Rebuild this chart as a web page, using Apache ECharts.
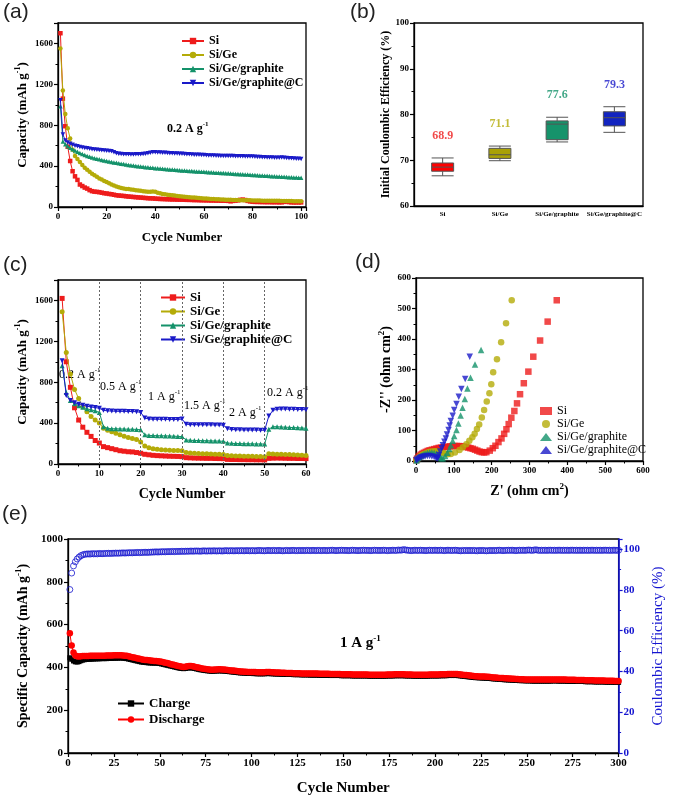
<!DOCTYPE html>
<html><head><meta charset="utf-8">
<script src="https://cdn.jsdelivr.net/npm/echarts@6/dist/echarts.min.js"></script>
<style>html,body{margin:0;padding:0;background:#fff}#c{width:674px;height:797px}</style>
</head><body><div id="c"></div>
<script>
// ---------------- DATA ----------------
const seriesNames = ['Si', 'Si/Ge', 'Si/Ge/graphite', 'Si/Ge/graphite@C'];

// (a) cycling at 0.2 A g-1, cycles 1..100
const aSi = [1700,1060,790,590,450,350,300,265,220,205,
 190,180,165,155,150,148,145,140,135,132,
 128,125,120,115,112,110,108,105,102,100,
 98,96,94,92,90,88,86,85,84,82,
 80,79,78,77,76,75,74,74,73,72,
 72,71,70,70,69,68,68,67,66,66,
 65,65,64,64,63,63,62,62,61,60,
 56,60,62,65,70,72,68,60,55,52,
 50,50,49,49,48,48,48,47,47,47,
 46,46,50,52,48,46,45,45,45,45];
const aSiGe = [1550,1140,910,770,670,560,500,470,440,410,
 385,365,345,325,310,295,280,268,255,245,
 232,220,210,200,192,185,180,177,175,172,
 168,165,162,158,155,152,150,150,152,148,
 140,135,128,125,120,118,115,112,108,105,
 102,100,98,96,94,92,90,88,86,84,
 82,80,79,78,76,75,74,73,72,71,
 70,69,68,68,67,66,66,65,65,64,
 64,63,63,62,62,62,61,61,60,60,
 60,59,59,58,58,58,57,57,56,56];
const aSiGeGr = [985,640,615,595,580,566,552,540,528,518,
 508,500,492,485,478,472,466,460,455,450,
 445,440,436,432,428,424,420,416,412,408,
 405,402,399,396,393,390,388,385,383,380,
 378,376,374,372,370,368,366,364,362,360,
 358,356,355,353,352,350,348,347,345,344,
 342,341,339,338,336,335,333,332,330,329,
 327,326,324,323,321,320,318,317,315,314,
 312,311,309,308,306,305,303,302,300,299,
 298,296,295,293,292,290,289,288,286,285];
const aSiGeGrC = [1045,710,650,632,618,608,600,594,588,582,
 578,574,570,566,563,560,557,554,552,550,
 548,545,535,525,520,518,516,515,515,514,
 514,515,515,516,518,520,525,530,535,535,
 533,532,530,530,528,527,525,524,523,522,
 520,518,516,515,514,512,511,510,509,508,
 506,505,504,503,502,501,500,500,499,499,
 498,498,497,497,496,496,495,495,494,493,
 492,490,489,487,486,485,484,484,483,482,
 483,484,482,480,478,476,474,472,471,470];

// (b) initial coulombic efficiency box data [min, Q1, median, Q3, max]
const bBoxes = [
  [66.6, 67.6, 68.5, 69.4, 70.5],
  [69.9, 70.4, 71.2, 72.6, 73.1],
  [74.0, 74.5, 77.9, 78.6, 79.4],
  [76.1, 77.5, 79.3, 80.6, 81.7]
];
const bLabels = ['68.9', '71.1', '77.6', '79.3'];

// (c) rate capability, cycles 1..60
const rateLabels = ['0.2', '0.5', '1', '1.5', '2', '0.2'];
const rateBoundaries = [10, 20, 30, 40, 50];
const cSi = [1620,1000,750,550,430,360,310,270,230,205,
 170,160,150,140,130,125,120,118,112,105,
 95,90,85,82,80,78,76,75,74,72,
 62,60,58,57,56,55,55,54,53,52,
 45,44,44,43,43,42,42,41,41,40,
 55,57,58,57,56,55,55,54,54,53];
const cSiGe = [1490,1090,880,730,640,560,510,465,430,400,
 350,330,315,300,285,272,260,250,240,215,
 175,160,150,145,140,138,135,133,132,130,
 112,108,105,103,101,100,98,96,95,93,
 82,80,79,78,77,76,75,74,73,70,
 100,98,96,95,93,92,90,88,86,82];
const cSiGeGr = [960,700,620,590,570,555,540,530,520,505,
 365,350,345,345,343,342,340,340,338,335,
 285,280,278,277,276,275,274,272,270,268,
 235,232,230,230,228,228,226,225,224,222,
 205,202,200,200,198,198,197,196,196,195,
 340,365,365,362,360,358,356,355,352,350];
const cSiGeGrC = [1010,670,620,600,585,575,565,558,552,545,
 525,520,518,516,515,515,514,513,512,505,
 450,440,438,438,437,437,436,436,435,440,
 390,385,385,384,384,383,383,382,382,380,
 345,338,335,334,333,333,332,332,331,330,
 470,525,535,538,538,536,535,534,533,530];

// (d) Nyquist plots [Z', -Z'']
const dSi = [[1,3],[3,8],[6,13],[9,17],[13,21],[17,24],[21,27],[26,30],[31,33],[36,35],[42,37],[48,39],[54,41],[60,43],[66,44],[72,45],[78,46],[84,47],[90,48],[96,49],[102,49],[108,49],[114,49],[120,48],[126,47],[132,46],[138,44],[144,42],[150,40],[156,37],[162,34],[168,31],[174,29],[180,28],[186,29],[195,34],[203,42],[210,50],[218,62],[226,74],[233,89],[239,104],[245,121],[252,142],[260,164],[267,189],[275,219],[285,255],[297,293],[310,342],[328,395],[348,457],[372,527]];
const dSiGe = [[1,3],[3,7],[6,11],[10,15],[14,19],[19,22],[24,25],[30,28],[36,30],[42,31],[48,32],[54,32],[60,31],[66,29],[72,26],[78,24],[84,22],[92,23],[103,28],[115,36],[124,45],[133,55],[141,66],[149,78],[155,89],[161,105],[167,120],[174,143],[180,167],[187,195],[194,222],[199,252],[204,291],[214,334],[225,389],[238,452],[253,527]];
const dSiGeGr = [[1,2],[3,6],[6,10],[10,14],[14,18],[19,22],[24,25],[30,27],[36,28],[42,28],[48,27],[54,24],[60,19],[64,13],[67,9],[71,9],[77,16],[83,27],[88,39],[92,52],[97,66],[101,82],[107,102],[112,123],[118,149],[123,175],[129,203],[136,238],[144,273],[156,316],[172,364]];
const dSiGeGrC = [[1,2],[3,4],[6,7],[10,10],[14,12],[19,14],[24,15],[30,16],[36,16],[42,15],[48,13],[53,10],[56,8],[58,11],[61,20],[64,31],[68,42],[71,52],[75,63],[79,74],[82,87],[86,102],[89,116],[92,131],[97,148],[101,167],[107,187],[113,211],[120,236],[130,269],[142,342]];

// (e) long cycling at 1 A g-1, cycles 1..300
const eCharge = [445,438,430,426,425,427,431,434,436,437,
 438,438,439,439,440,440,440,441,441,441,
 441,442,442,442,443,443,443,444,444,443,
 442,441,439,437,435,433,431,429,427,425,
 424,423,422,421,421,420,420,420,419,418,
 416,414,412,410,408,406,404,402,400,398,
 396,395,394,395,397,398,398,397,395,393,
 391,389,388,386,385,384,383,382,382,383,
 383,384,384,383,383,382,381,380,379,378,
 377,376,375,374,374,373,373,372,372,372,
 371,371,370,370,370,370,370,371,371,371,
 370,370,369,369,369,368,368,368,367,367,
 367,367,366,366,366,366,365,365,365,365,
 365,364,364,364,364,364,363,363,363,363,
 363,363,362,362,362,362,362,362,361,361,
 361,361,361,361,360,360,360,360,360,360,
 360,360,360,359,359,359,359,359,359,359,
 359,359,359,360,360,360,360,361,361,361,
 361,361,361,360,360,360,360,359,359,359,
 359,359,359,359,359,359,360,360,360,360,
 360,360,361,361,361,361,362,362,362,362,
 362,362,361,360,359,358,357,356,355,354,
 353,352,352,351,351,350,350,349,349,348,
 347,346,346,345,344,344,343,342,342,341,
 341,340,340,339,339,338,338,338,337,337,
 337,337,336,336,336,336,336,336,336,336,
 336,336,336,337,337,337,336,336,336,336,
 336,335,335,335,335,335,334,334,334,334,
 334,333,333,333,333,333,332,332,332,332,
 332,332,331,331,331,331,331,330,330,330];
const eDischarge = [560,502,470,456,452,451,452,453,453,453,
 453,454,454,454,454,455,455,455,455,455,
 456,456,456,456,457,457,457,457,457,456,
 455,454,452,450,448,446,444,442,440,438,
 436,435,434,433,432,431,430,430,429,428,
 426,424,422,420,418,415,413,411,409,407,
 405,403,402,403,405,406,406,405,403,401,
 399,397,395,394,392,391,390,389,389,390,
 390,391,391,390,390,389,388,387,386,385,
 384,383,382,381,381,380,380,379,379,378,
 378,378,377,377,377,377,377,378,378,378,
 377,377,376,376,376,375,375,375,374,374,
 374,374,373,373,373,373,372,372,372,372,
 372,371,371,371,371,371,370,370,370,370,
 370,370,369,369,369,369,369,369,368,368,
 368,368,368,368,367,367,367,367,367,367,
 367,367,367,366,366,366,366,366,366,366,
 366,366,366,367,367,367,367,368,368,368,
 368,368,368,367,367,367,367,366,366,366,
 366,366,366,366,366,366,367,367,367,367,
 367,367,368,368,368,368,369,369,369,369,
 369,369,368,367,366,365,364,363,362,361,
 360,359,359,358,358,357,357,356,356,355,
 354,353,353,352,351,351,350,349,349,348,
 348,347,347,346,346,345,345,345,344,344,
 344,344,343,343,343,343,343,343,343,343,
 343,343,343,344,344,344,343,343,343,343,
 343,342,342,342,342,342,341,341,341,341,
 341,340,340,340,340,340,339,339,339,339,
 339,339,338,338,338,338,338,337,337,337];
const eCE = [80.2,88.3,91.8,93.8,95.2,96.1,96.8,97.2,97.5,97.6,
 97.7,97.6,97.8,97.7,97.8,97.7,97.9,97.8,97.8,97.9,
 97.9,98.0,97.9,98.0,98.0,98.1,98.0,98.1,98.1,98.2,
 98.1,98.2,98.2,98.3,98.2,98.3,98.3,98.4,98.3,98.4,
 98.4,98.5,98.4,98.5,98.5,98.6,98.6,98.7,98.6,98.7,
 98.7,98.8,98.7,98.8,98.8,98.8,98.9,98.8,98.9,98.9,
 98.9,99.0,98.9,99.0,99.0,99.0,99.1,99.0,99.1,99.1,
 99.1,99.0,99.1,99.2,99.1,99.1,99.2,99.1,99.2,99.2,
 99.1,99.2,99.2,99.1,99.2,99.3,99.2,99.2,99.3,99.2,
 99.2,99.3,99.2,99.3,99.3,99.2,99.3,99.3,99.2,99.3,
 99.3,99.2,99.3,99.4,99.3,99.3,99.2,99.3,99.4,99.3,
 99.3,99.4,99.3,99.3,99.4,99.3,99.2,99.3,99.4,99.3,
 99.3,99.4,99.4,99.3,99.3,99.4,99.3,99.4,99.3,99.4,
 99.4,99.3,99.4,99.4,99.3,99.4,99.4,99.3,99.4,99.4,
 99.3,99.4,99.4,99.5,99.4,99.3,99.4,99.4,99.5,99.4,
 99.4,99.4,99.3,99.4,99.5,99.4,99.4,99.3,99.4,99.4,
 99.5,99.4,99.4,99.4,99.3,99.4,99.5,99.4,99.4,99.4,
 99.4,99.5,99.4,99.3,99.4,99.4,99.5,99.4,99.4,99.6,
 99.5,99.6,99.8,99.6,99.5,99.4,99.3,99.4,99.5,99.4,
 99.4,99.5,99.4,99.4,99.3,99.4,99.5,99.4,99.4,99.5,
 99.4,99.4,99.5,99.4,99.3,99.4,99.5,99.4,99.4,99.4,
 99.5,99.4,99.3,99.2,99.4,99.3,99.4,99.3,99.4,99.3,
 99.4,99.3,99.2,99.4,99.3,99.4,99.3,99.2,99.3,99.4,
 99.3,99.4,99.3,99.4,99.5,99.4,99.3,99.4,99.4,99.5,
 99.4,99.5,99.4,99.3,99.4,99.5,99.4,99.5,99.4,99.5,
 99.6,99.5,99.4,99.6,99.7,99.5,99.4,99.5,99.4,99.5,
 99.4,99.5,99.5,99.4,99.5,99.4,99.5,99.5,99.4,99.5,
 99.4,99.5,99.4,99.5,99.5,99.4,99.5,99.4,99.5,99.4,
 99.5,99.4,99.5,99.4,99.5,99.5,99.4,99.5,99.4,99.5,
 99.4,99.5,99.5,99.4,99.5,99.4,99.5,99.5,99.4,99.5];

// ---------------- STYLE ----------------
const SERIF = '"Liberation Serif","Times New Roman",serif';
const SANS = '"Liberation Sans",Arial,sans-serif';
const colors = ['#ee1c1c', '#b4ab08', '#14926a', '#1a1ac8'];
const boxColors = ['#ff0000', '#a9a106', '#16936b', '#1224c0'];
const symbols = ['rect', 'circle', 'triangle', 'triangle'];
const rotates = [0, 0, 0, 180];

function rich(size, weight, color) {
  return {
    t: { fontSize: size, fontWeight: weight, fontFamily: SERIF, color: color, lineHeight: size + 4 },
    s: { fontSize: Math.round(size * 0.62), fontWeight: weight, fontFamily: SERIF, color: color, verticalAlign: 'top', lineHeight: Math.round(size * 0.62) + 2 }
  };
}
function sup(a, s, b) { return '{t|' + a + '}{s|' + s + '}' + (b ? '{t|' + b + '}' : ''); }

function axisCommon(fs, color) {
  color = color || '#000';
  return {
    axisLine: { show: true, onZero: false, lineStyle: { color: color, width: 1.3 } },
    axisTick: { show: true, inside: false, length: 4, lineStyle: { color: color, width: 1.2 } },
    minorTick: { show: true, splitNumber: 2, length: 2.5, lineStyle: { color: color, width: 1 } },
    splitLine: { show: false },
    axisLabel: { fontFamily: SERIF, fontWeight: 'bold', fontSize: fs, color: color, margin: 5,
      formatter: v => String(v) }
  };
}
function gridBox(l, t, w, h) {
  return { left: l, top: t, width: w, height: h, show: true, borderColor: '#000', borderWidth: 1.3, containLabel: false };
}
const toXY = arr => arr.map((v, i) => [i + 1, v]);

// ---------------- OPTION ----------------
const grids = [
  gridBox(58, 23, 248, 184),   // a
  gridBox(414, 23, 229, 183),  // b
  gridBox(58, 280, 248, 184),  // c
  gridBox(416, 278, 227, 183), // d
  gridBox(68, 539, 558, 215)   // e
];

const xAxes = [
  Object.assign(axisCommon(9), { gridIndex: 0, type: 'value', min: 0, max: 102, interval: 20,
    name: 'Cycle Number', nameLocation: 'middle', nameGap: 24,
    nameTextStyle: { fontFamily: SERIF, fontWeight: 'bold', fontSize: 13 } }),
  Object.assign(axisCommon(7), { gridIndex: 1, type: 'category', data: seriesNames, boundaryGap: true,
    axisTick: { show: false }, minorTick: { show: false } }),
  Object.assign(axisCommon(9), { gridIndex: 2, type: 'value', min: 0, max: 60, interval: 10,
    name: 'Cycle Number', nameLocation: 'middle', nameGap: 23,
    nameTextStyle: { fontFamily: SERIF, fontWeight: 'bold', fontSize: 14 } }),
  Object.assign(axisCommon(9), { gridIndex: 3, type: 'value', min: 0, max: 600, interval: 100,
    name: sup("Z' (ohm cm", '2', ')'), nameLocation: 'middle', nameGap: 21,
    nameTextStyle: { rich: rich(14, 'bold', '#000') } }),
  Object.assign(axisCommon(11), { gridIndex: 4, type: 'value', min: 0, max: 300, interval: 25,
    name: 'Cycle Number', nameLocation: 'middle', nameGap: 28,
    nameTextStyle: { fontFamily: SERIF, fontWeight: 'bold', fontSize: 15 } })
];
xAxes[0].axisLabel.showMaxLabel = false;
xAxes[1].axisLabel.interval = 0;
xAxes[1].axisLabel.formatter = null;

const yAxes = [
  Object.assign(axisCommon(9), { gridIndex: 0, type: 'value', min: 0, max: 1800, interval: 400,
    name: sup('Capacity (mAh g', '-1', ')'), nameLocation: 'middle', nameGap: 27,
    nameTextStyle: { rich: rich(13, 'bold', '#000') } }),
  Object.assign(axisCommon(9), { gridIndex: 1, type: 'value', min: 60, max: 100, interval: 10,
    name: 'Initial Coulombic Efficiency (%)', nameLocation: 'middle', nameGap: 22,
    nameTextStyle: { fontFamily: SERIF, fontWeight: 'bold', fontSize: 12 } }),
  Object.assign(axisCommon(9), { gridIndex: 2, type: 'value', min: 0, max: 1800, interval: 400,
    name: sup('Capacity (mAh g', '-1', ')'), nameLocation: 'middle', nameGap: 27,
    nameTextStyle: { rich: rich(13, 'bold', '#000') } }),
  Object.assign(axisCommon(9), { gridIndex: 3, type: 'value', min: 0, max: 600, interval: 100,
    name: sup("-Z'' (ohm cm", '2', ')'), nameLocation: 'middle', nameGap: 20,
    nameTextStyle: { rich: rich(14, 'bold', '#000') } }),
  Object.assign(axisCommon(11), { gridIndex: 4, type: 'value', min: 0, max: 1000, interval: 200,
    name: sup('Specific Capacity (mAh g', '-1', ')'), nameLocation: 'middle', nameGap: 30,
    nameTextStyle: { rich: rich(14, 'bold', '#000') } }),
  Object.assign(axisCommon(11, '#1515d0'), { gridIndex: 4, type: 'value', position: 'right', min: 0, max: 105, interval: 20,
    name: 'Coulombic Efficiency (%)', nameLocation: 'middle', nameGap: 31, nameRotate: 90,
    nameTextStyle: { fontFamily: SERIF, fontSize: 15, color: '#1515d0' } })
];
yAxes[0].axisLabel.showMaxLabel = false;
yAxes[2].axisLabel.showMaxLabel = false;
yAxes[5].axisLabel.showMaxLabel = false;
yAxes[5].axisLine.lineStyle.width = 1.6;

const series = [];
const aData = [aSi, aSiGe, aSiGeGr, aSiGeGrC];
const cData = [cSi, cSiGe, cSiGeGr, cSiGeGrC];
const dData = [dSi, dSiGe, dSiGeGr, dSiGeGrC];

aData.forEach((arr, k) => series.push({
  type: 'line', name: seriesNames[k], xAxisIndex: 0, yAxisIndex: 0, data: toXY(arr),
  symbol: symbols[k], symbolRotate: rotates[k], symbolSize: 4.5, showSymbol: true,
  lineStyle: { color: colors[k], width: 1 }, itemStyle: { color: colors[k] }, animation: false, z: 2 + k
}));

series.push({
  type: 'boxplot', name: 'ICE', xAxisIndex: 1, yAxisIndex: 1, boxWidth: [22, 22],
  data: bBoxes.map((b, k) => ({ value: b, itemStyle: { color: boxColors[k], borderColor: '#555', borderWidth: 1 } })),
  animation: false
});
series.push({
  type: 'scatter', name: 'ICE label', xAxisIndex: 1, yAxisIndex: 1, symbolSize: 0,
  data: bBoxes.map((b, k) => ({ value: [k, b[4] + 4.8], label: { show: true, position: 'inside',
    formatter: bLabels[k], color: colors[k], fontFamily: SERIF, fontWeight: 'bold', fontSize: 12 } })),
  animation: false, silent: true
});

cData.forEach((arr, k) => {
  const s = {
    type: 'line', name: seriesNames[k], xAxisIndex: 2, yAxisIndex: 2, data: toXY(arr),
    symbol: symbols[k], symbolRotate: rotates[k], symbolSize: 5, showSymbol: true,
    lineStyle: { color: colors[k], width: 1 }, itemStyle: { color: colors[k] }, animation: false, z: 2 + k
  };
  if (k === 0) {
    s.markLine = { silent: true, symbol: 'none', label: { show: false },
      lineStyle: { color: '#666', type: [2, 2], width: 1 },
      data: rateBoundaries.map(x => ({ xAxis: x })) , animation: false };
  }
  series.push(s);
});

dData.forEach((arr, k) => series.push({
  type: 'scatter', name: seriesNames[k] + ' ', xAxisIndex: 3, yAxisIndex: 3, data: arr,
  symbol: symbols[k], symbolRotate: rotates[k], symbolSize: 6.5,
  itemStyle: { color: colors[k] }, animation: false, z: 2 + k
}));

series.push({
  type: 'line', name: 'Charge', xAxisIndex: 4, yAxisIndex: 4, data: toXY(eCharge),
  symbol: 'rect', symbolSize: 5, lineStyle: { color: '#000', width: 1 }, itemStyle: { color: '#000' }, animation: false, z: 2
});
series.push({
  type: 'line', name: 'Discharge', xAxisIndex: 4, yAxisIndex: 4, data: toXY(eDischarge),
  symbol: 'circle', symbolSize: 6.5, lineStyle: { color: '#f00', width: 1 }, itemStyle: { color: '#f00' }, animation: false, z: 3
});
series.push({
  type: 'scatter', name: 'CE', xAxisIndex: 4, yAxisIndex: 5, data: toXY(eCE),
  symbol: 'circle', symbolSize: 6, itemStyle: { color: 'transparent', borderColor: '#1a1ad0', borderWidth: 1 }, animation: false, z: 4
});

const legText = (fs, w) => ({ fontFamily: SERIF, fontWeight: w, fontSize: fs, color: '#000' });
const legends = [
  { data: seriesNames, left: 176, top: 30, orient: 'vertical', itemWidth: 22, itemHeight: 8, itemGap: 2,
    textStyle: legText(12, 'bold'), selectedMode: false },
  { data: seriesNames, left: 155, top: 286, orient: 'vertical', itemWidth: 24, itemHeight: 8, itemGap: 1,
    textStyle: legText(13, 'bold'), selectedMode: false },
  { data: seriesNames.map(n => n + ' '), left: 535, top: 400, orient: 'vertical', itemWidth: 12, itemHeight: 8, itemGap: 1,
    textStyle: legText(12, 'normal'), selectedMode: false },
  { data: ['Charge', 'Discharge'], left: 112, top: 692, orient: 'vertical', itemWidth: 26, itemHeight: 8, itemGap: 3,
    textStyle: legText(13, 'bold'), selectedMode: false }
];

const panelLetter = (txt, x, y) => ({ type: 'text', left: x, top: y,
  style: { text: txt, fontFamily: SANS, fontSize: 21, fill: '#222' } });
const note = (txt, x, y, fs, w) => ({ type: 'text', left: x, top: y,
  style: { text: txt, rich: rich(fs, w, '#111') } });

const graphics = [
  panelLetter('(a)', 3, 2), panelLetter('(b)', 350, 2), panelLetter('(c)', 3, 255),
  panelLetter('(d)', 355, 252), panelLetter('(e)', 2, 504),
  note(sup('0.2 A g', '-1'), 167, 121, 12, 'bold'),
  note(sup(rateLabels[0] + ' A g', '-1'), 59, 367, 12, 'normal'),
  note(sup(rateLabels[1] + ' A g', '-1'), 100, 379, 12, 'normal'),
  note(sup(rateLabels[2] + ' A g', '-1'), 148, 389, 12, 'normal'),
  note(sup(rateLabels[3] + ' A g', '-1'), 184, 398, 12, 'normal'),
  note(sup(rateLabels[4] + ' A g', '-1'), 229, 405, 12, 'normal'),
  note(sup(rateLabels[5] + ' A g', '-1'), 267, 385, 12, 'normal'),
  note(sup('1 A g', '-1'), 340, 634, 15, 'bold')
];

const option = {
  backgroundColor: '#fff',
  animation: false,
  grid: grids, xAxis: xAxes, yAxis: yAxes, series: series, legend: legends, graphic: graphics
};

const chart = echarts.init(document.getElementById('c'), null, { renderer: 'canvas' });
chart.setOption(option);
</script>
</body></html>
